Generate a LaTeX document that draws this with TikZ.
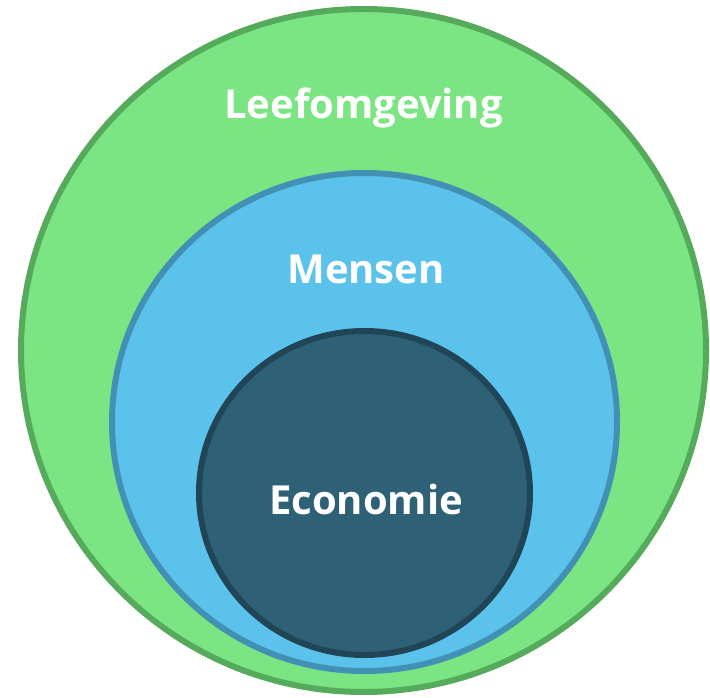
\documentclass[tikz,border=0pt]{standalone}
\usepackage{fontspec}
\setmainfont{Open Sans}
\definecolor{gfill}{RGB}{122,229,130}
\definecolor{gline}{RGB}{86,170,92}
\definecolor{bfill}{RGB}{91,194,236}
\definecolor{bline}{RGB}{66,145,180}
\definecolor{dfill}{RGB}{46,96,118}
\definecolor{dline}{RGB}{31,69,86}
\tikzset{
  ring/.style={line width=6pt},
  lbl/.style={text=white, anchor=base, inner sep=0pt, font=\fontsize{40}{48}\selectfont\bfseries}
}
\begin{document}
\begin{tikzpicture}[x=1pt,y=-1pt]
\useasboundingbox (0,0) rectangle (710,698);
\filldraw[ring, fill=gfill, draw=gline] (363.5,350.5) ellipse [x radius=342.5, y radius=341.5];
\filldraw[ring, fill=bfill, draw=bline] (364.5,422) ellipse [x radius=252.5, y radius=249];
\filldraw[ring, fill=dfill, draw=dline] (364.5,493) ellipse [x radius=165.5, y radius=162];
\node[lbl] (leef) at (363.5,119) {Leefomgeving};
\node[lbl] (mens) at (366,283) {Mensen};
\node[lbl] (econ) at (366,514) {Economie};
\end{tikzpicture}
\end{document}
